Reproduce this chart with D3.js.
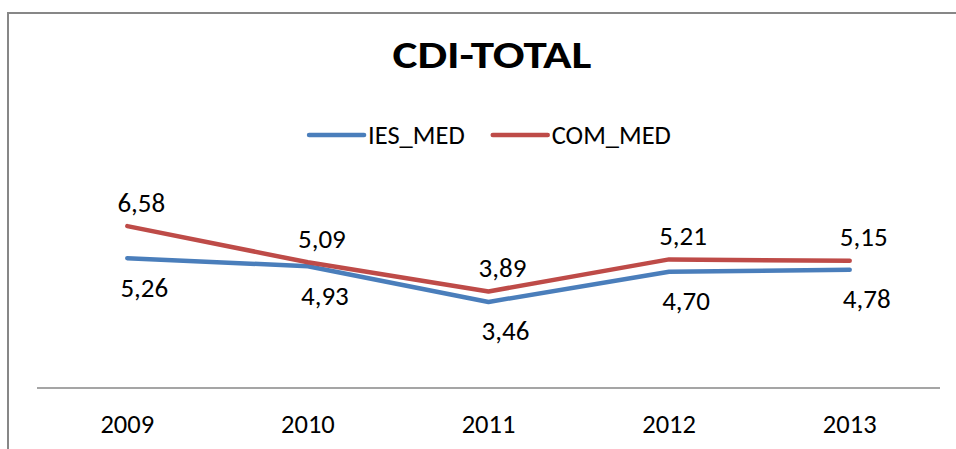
<!DOCTYPE html>
<html>
<head>
<meta charset="utf-8">
<script src="https://cdn.jsdelivr.net/npm/d3@7"></script>
<style>
  body { margin: 0; background: #fff; }
  text { font-family: Carlito, Lato, "Open Sans", sans-serif; fill: #000; }
</style>
</head>
<body>
<script>
var years = ["2009", "2010", "2011", "2012", "2013"];
var iesMed = [5.26, 4.93, 3.46, 4.70, 4.78];
var comMed = [6.58, 5.09, 3.89, 5.21, 5.15];
var seriesNames = ["IES_MED", "COM_MED"];

(function(){
   var width = 956;
   var height = 449;

   var svg = d3.select("body").append("svg")
       .attr("width", width)
       .attr("height", height);

   // chart frame (runs off the right and bottom edge like the original)
   svg.append("rect")
       .attr("x", 8).attr("y", 13)
       .attr("width", 970).attr("height", 470)
       .attr("fill", "none")
       .attr("stroke", "#878787")
       .attr("stroke-width", 2);

   var title = svg.append("text")
       .attr("x", 492).attr("y", 68)
       .attr("text-anchor", "middle")
       .style("font-size", "38px")
       .style("font-weight", "bold")
       .text("CDI-TOTAL");
   // stretch to the original title width
   title.attr("textLength", 199).attr("lengthAdjust", "spacingAndGlyphs");

   var x = d3.scaleBand().domain(years).range([37, 940]);
   var y = d3.scaleLinear().domain([0, 8]).range([386, 191.6]);
   var cx = (d) => x(d) + x.bandwidth() / 2;

   // category axis
   var axis = svg.append("g")
       .attr("transform", "translate(0,388)")
       .call(d3.axisBottom(x).tickSize(0).tickPadding(0));
   axis.select(".domain")
       .attr("d", "M37,0H940")
       .attr("stroke", "#878787")
       .attr("stroke-width", 1.5);
   axis.selectAll(".tick text")
       .attr("y", 45)
       .attr("dy", 0)
       .style("font-size", "26.5px")
       .style("font-family", "Carlito, Lato, 'Open Sans', sans-serif");

   var series = [
       { name: seriesNames[0], values: iesMed, color: "#4A7EBB", dx: 17, dy: 29 },
       { name: seriesNames[1], values: comMed, color: "#BE4B48", dx: 14, dy: -24 }
   ];

   var linefunc = d3.line()
       .x((d, i) => cx(years[i]))
       .y((d) => y(d))
       .curve(d3.curveLinear);

   series.forEach((s) => {
       svg.append("path")
           .attr("d", linefunc(s.values))
           .attr("fill", "none")
           .attr("stroke", s.color)
           .attr("stroke-width", 4.5)
           .attr("stroke-linejoin", "round")
           .attr("stroke-linecap", "round");
   });

   series.forEach((s) => {
       svg.selectAll(null)
           .data(s.values)
           .enter().append("text")
           .attr("x", (d, i) => cx(years[i]) + s.dx)
           .attr("y", (d) => y(d) + s.dy)
           .attr("text-anchor", "middle")
           .attr("dominant-baseline", "central")
           .style("font-size", "27px")
           .text((d) => d.toFixed(2).replace(".", ","));
   });

   // legend
   var legend = svg.append("g");
   var lx = 0;
   series.forEach((s, i) => {
       var item = legend.append("g").attr("transform", "translate(" + lx + ",0)");
       item.append("line")
           .attr("x1", 0).attr("x2", 55)
           .attr("y1", 135).attr("y2", 135)
           .attr("stroke", s.color)
           .attr("stroke-width", 4.5)
           .attr("stroke-linecap", "round");
       var t = item.append("text")
           .attr("x", 59).attr("y", 144)
           .style("font-size", "26.5px")
           .text(s.name);
       lx += 59 + t.node().getComputedTextLength() + 28;
   });
   var lw = lx - 28;
   legend.attr("transform", "translate(" + (490 - lw / 2) + ",0)");
})();
</script>
</body>
</html>
